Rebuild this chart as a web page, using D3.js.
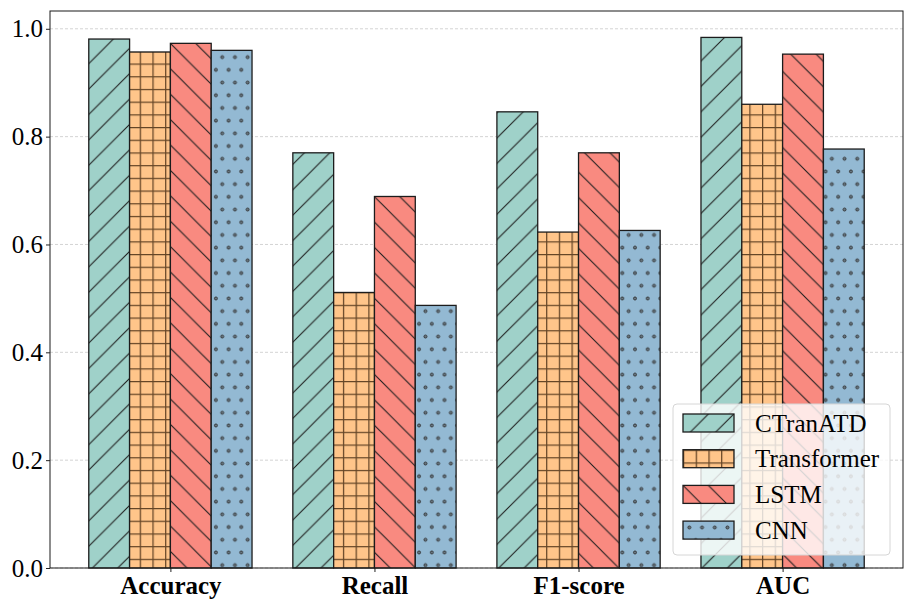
<!DOCTYPE html>
<html>
<head>
<meta charset="utf-8">
<script src="https://cdn.jsdelivr.net/npm/d3@7"></script>
<style>
  body { margin: 0; background: #fff; }
  text { font-family: "Liberation Serif", "Times New Roman", serif; fill: #000; }
</style>
</head>
<body>
<svg id="chart" width="915" height="610"></svg>
<script>
// metrics on the x axis
var metrics = ["Accuracy", "Recall", "F1-score", "AUC"];
// models, one bar per metric
var models = ["CTranATD", "Transformer", "LSTM", "CNN"];
var ctranatd = [0.981, 0.770, 0.846, 0.984];
var transformer = [0.957, 0.511, 0.623, 0.860];
var lstm = [0.973, 0.689, 0.770, 0.953];
var cnn = [0.960, 0.487, 0.626, 0.777];
var yTicks = [0.0, 0.2, 0.4, 0.6, 0.8, 1.0];

var series = [ctranatd, transformer, lstm, cnn];
var colors = ["#9fd1c9", "#ffc58a", "#f98a80", "#93b9d3"];
var hatches = ["diag", "grid", "back", "dots"];

var svg = d3.select("#chart");
var plotLeft = 50, plotRight = 903, plotTop = 11, plotBottom = 568;
var barW = 0.2;
var fontSize = "25px";

var x = d3.scaleLinear().domain([-0.59, 3.59]).range([plotLeft, plotRight]);
var y = d3.scaleLinear().domain([0, 1.033]).range([plotBottom, plotTop]);

/*====================================================================
       hatch patterns, anchored to the page like matplotlib
    ==================================================================*/
var defs = svg.append("defs");
var big = 25.4, small = 12.7;

var p = defs.append("pattern").attr("id", "diag").attr("patternUnits", "userSpaceOnUse")
    .attr("width", big).attr("height", big);
p.append("path").attr("d", "M-2,2 L2,-2 M0," + big + " L" + big + ",0 M" + (big - 2) + "," + (big + 2) + " L" + (big + 2) + "," + (big - 2))
    .attr("stroke", "#1e1e1e").attr("stroke-width", 1.1);

p = defs.append("pattern").attr("id", "back").attr("patternUnits", "userSpaceOnUse")
    .attr("width", big).attr("height", big);
p.append("path").attr("d", "M-2," + (big - 2) + " L2," + (big + 2) + " M0,0 L" + big + "," + big + " M" + (big - 2) + ",-2 L" + (big + 2) + ",2")
    .attr("stroke", "#1e1e1e").attr("stroke-width", 1.1);

p = defs.append("pattern").attr("id", "grid").attr("patternUnits", "userSpaceOnUse")
    .attr("width", small).attr("height", small);
p.append("path").attr("d", "M0,0.6 H" + small + " M0.6,0 V" + small)
    .attr("stroke", "rgba(40,20,0,0.72)").attr("stroke-width", 1.3);

p = defs.append("pattern").attr("id", "dots").attr("patternUnits", "userSpaceOnUse")
    .attr("width", small).attr("height", big);
[[small / 2, small / 2], [0, big - small / 2], [small, big - small / 2]].forEach(function (c) {
    p.append("circle").attr("cx", c[0]).attr("cy", c[1]).attr("r", 1.5)
        .attr("fill", "#6b7a85").attr("stroke", "#2a2a2a").attr("stroke-width", 0.9);
});

/*====================================================================
       grid + axes
    ==================================================================*/
svg.append("g").selectAll("line").data(yTicks).enter().append("line")
    .attr("x1", plotLeft).attr("x2", plotRight)
    .attr("y1", function (d) { return y(d); }).attr("y2", function (d) { return y(d); })
    .attr("stroke", "#cfcfcf").attr("stroke-width", 0.9).attr("stroke-dasharray", "3,2");

/*====================================================================
       bars
    ==================================================================*/
var bars = svg.append("g");
series.forEach(function (vals, m) {
    var g = bars.append("g");
    vals.forEach(function (v, i) {
        var x0 = x(i + (m - 1.5) * barW - barW / 2);
        var w = x(i + (m - 1.5) * barW + barW / 2) - x0;
        g.append("rect").attr("x", x0).attr("y", y(v)).attr("width", w).attr("height", y(0) - y(v))
            .attr("fill", colors[m]);
        g.append("rect").attr("x", x0).attr("y", y(v)).attr("width", w).attr("height", y(0) - y(v))
            .attr("fill", "url(#" + hatches[m] + ")").attr("stroke", "#1c1c1c").attr("stroke-width", 1.3);
    });
});

// frame
svg.append("rect").attr("x", plotLeft).attr("y", plotTop)
    .attr("width", plotRight - plotLeft).attr("height", plotBottom - plotTop)
    .attr("fill", "none").attr("stroke", "#1a1a1a").attr("stroke-width", 1);

var yAxis = svg.append("g").attr("transform", "translate(" + plotLeft + ",0)")
    .call(d3.axisLeft(y).tickValues(yTicks).tickFormat(d3.format(".1f")).tickSize(4).tickPadding(3));
yAxis.select(".domain").remove();
yAxis.selectAll("text").style("font-size", fontSize).style("font-family", "Liberation Serif");

var xAxis = svg.append("g").attr("transform", "translate(0," + plotBottom + ")")
    .call(d3.axisBottom(x).tickValues([0, 1, 2, 3]).tickFormat(function (d) { return metrics[d]; })
        .tickSize(4).tickPadding(4));
xAxis.select(".domain").remove();
xAxis.selectAll("text").style("font-size", fontSize).style("font-weight", "bold")
    .style("font-family", "Liberation Serif");
svg.selectAll(".tick line").attr("stroke", "#222");

/*====================================================================
       legend
    ==================================================================*/
var legend = svg.append("g").attr("transform", "translate(673,404)");
legend.append("rect").attr("width", 217).attr("height", 151).attr("rx", 4)
    .attr("fill", "rgba(255,255,255,0.8)").attr("stroke", "#d6d6d6").attr("stroke-width", 1);
models.forEach(function (name, m) {
    var row = legend.append("g").attr("transform", "translate(10," + (10 + m * 35.7) + ")");
    row.append("rect").attr("width", 51).attr("height", 18).attr("fill", colors[m]);
    row.append("rect").attr("width", 51).attr("height", 18).attr("fill", "url(#" + hatches[m] + ")")
        .attr("stroke", "#1c1c1c").attr("stroke-width", 1.3);
    row.append("text").attr("x", 72).attr("y", 9).attr("dy", "0.35em")
        .style("font-size", fontSize).text(name);
});
</script>
</body>
</html>
